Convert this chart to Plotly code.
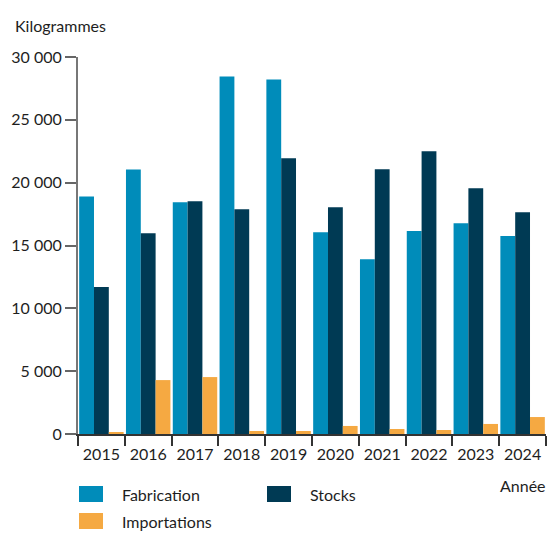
import plotly.graph_objects as go

years = ["2015", "2016", "2017", "2018", "2019", "2020", "2021", "2022", "2023", "2024"]
fabrication = [18900, 21050, 18450, 28450, 28200, 16050, 13900, 16150, 16780, 15750]
stocks = [11700, 15980, 18530, 17890, 21940, 18050, 21070, 22500, 19560, 17650]
importations = [150, 4290, 4530, 240, 240, 640, 400, 320, 800, 1350]
y_ticks = [0, 5000, 10000, 15000, 20000, 25000, 30000]

series_names = ["Fabrication", "Stocks", "Importations"]
colors = ["#008CBA", "#003A54", "#F5A942"]

FONT = "Lato, 'Open Sans', sans-serif"
TXT = "#1e1e1e"

W, H = 549, 542
L, R, T, B = 78, 3, 57, 108

fig = go.Figure()
for name, vals, c in zip(series_names, [fabrication, stocks, importations], colors):
    fig.add_trace(go.Bar(x=years, y=vals, name=name, marker=dict(color=c, line=dict(width=0)),
                         showlegend=False))

fig.update_layout(
    width=W, height=H,
    margin=dict(l=L, r=R, t=T, b=B),
    barmode="group", bargap=0.05, bargroupgap=0,
    plot_bgcolor="white", paper_bgcolor="white",
    separators=", ",
    font=dict(family=FONT, size=16, color=TXT),
)
fig.update_xaxes(
    type="category", tickson="boundaries", ticks="outside", ticklen=10, tickwidth=1.5,
    tickcolor="#333", showline=True, linecolor="#333", linewidth=1.5,
    showgrid=False, tickfont=dict(size=16, color=TXT), ticklabelstandoff=5,
)
fig.update_yaxes(
    range=[0, 30000], tickvals=y_ticks, tickformat=",d", ticks="outside", ticklen=11,
    tickwidth=1.5, tickcolor="#666", showline=True, linecolor="#777", linewidth=2,
    showgrid=False, zeroline=False, tickfont=dict(size=16, color=TXT),
)

pw = W - L - R
ph = H - T - B
def px(x):
    return (x - L) / pw
def py(y):
    return (H - B - y) / ph

# annotations: axis titles
fig.add_annotation(text="Kilogrammes", xref="paper", yref="paper", x=px(13), y=py(25),
                   xanchor="left", yanchor="middle", showarrow=False, font=dict(size=16, color=TXT))
fig.add_annotation(text="Année", xref="paper", yref="paper", x=px(548), y=py(485),
                   xanchor="right", yanchor="middle", showarrow=False, font=dict(size=16, color=TXT))

# manual legend
legend_items = [(series_names[0], colors[0], 79, 494), (series_names[1], colors[1], 267, 494),
                (series_names[2], colors[2], 79, 521)]
for name, c, x0, yc in legend_items:
    fig.add_shape(type="rect", xref="paper", yref="paper", x0=px(x0), x1=px(x0 + 24),
                  y0=py(yc - 8), y1=py(yc + 8), fillcolor=c, line=dict(width=0))
    fig.add_annotation(text=name, xref="paper", yref="paper", x=px(x0 + 41), y=py(yc),
                       xanchor="left", yanchor="middle", showarrow=False,
                       font=dict(size=16, color=TXT))

fig.write_html("out.html", config={"displayModeBar": False},
               post_script="document.body.style.margin='0';document.body.style.overflow='hidden';")
